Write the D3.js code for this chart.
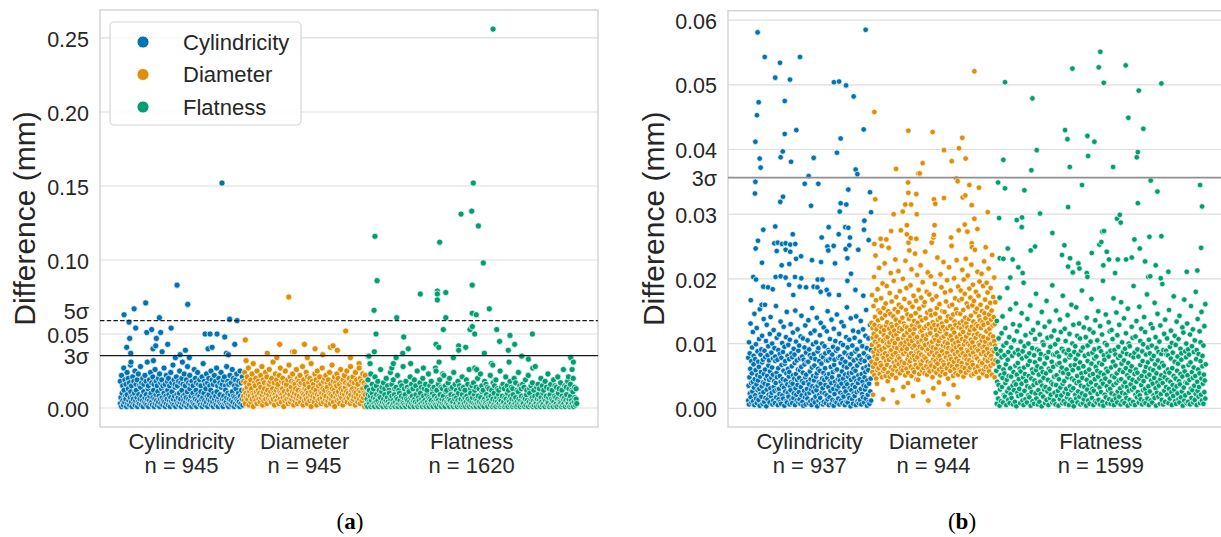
<!DOCTYPE html>
<html><head><meta charset="utf-8">
<script src="https://cdn.jsdelivr.net/npm/d3@7"></script>
<style>body{margin:0;background:#fff}svg{display:block}</style>
</head><body><script>
// ===== DATA (values in µm; axis labels shown in mm) =====
const categories = ["Cylindricity","Diameter","Flatness"];
const countsA = [945,945,1620];
const countsB = [937,944,1599];
const yTicksA = [0,50,100,150,200,250];
const yTicksB = [0,10,20,30,40,50,60];
const sigmaA = [{label:"3σ",v:35.4,labelV:35.4,style:"solid"},{label:"5σ",v:59.0,labelV:65.9,style:"dashed"}];
const sigmaB = [{label:"3σ",v:35.64,labelV:35.64,style:"gray"}];

// ---- panel (a) ----
const cylA_low=[3,7,1,10,5,2,12,4,8,6,1,9,3,13,5,2,7,11,4,1,8,6,3,10,2,5,12,7,1,4,9,3,6,14,2,8,5,1,11,4,7,3,9,2,6,13,1,5,8,3,10,4,2,7,12,1,6,3,9,5,2,11,4,8,1,6,3,13,7,2,5,10,4,1,8,3,6,12,2,9,5,1,7,4,11,3,6,2,8,14,1,5,9,3,7,2,10,4,6,1,12,3,8,5,2,9,4,7,1,11,3,6,2,13,5,8,1,4,10,3,7,2,6,12,1,5,9,3,4,8,2,11,6,1,7,3,10,5,2,13,4,8,1,6,9,3,5,12,2,7,4,1,10,6,3,8,2,11,5,1,7,4,9,3,14,2,6,1,8,5,3,12,4,7,2,10,1,6,3,9,5,2,11,4,8,1,7,3,13,6,2,5,10,4,1,8,3,12,6,2];
const cylA_mid=[18,22,15,27,19,16,24,20,17,29,15,21,18,25,16,19,23,15,28,17,20,16,22,18,31,15,19,24,17,21,16,26,18,15,20,23,17,19,15,27,16,22,18,20,15,24,17,29,19,16,21,15,18,25,17,20,16,23,15,19,28,17,22,16,18,15,26,20,17,24,16,19,15,21,30,18,16,23,17,20,15,25,19,16,22,18,27,15,20,17,24,16,19,21,15,28,18,16,22,17,26,20,15,19,23,16,18,25,17,21];
const cylA_out=[[31,63],[51,41],[69,58],[74,47],[82,37],[84,31],[108,67],[120,54],[197,71],[205,51],[243,53],[253,40],[256,32],[274,42],[279,47],[302,61],[312,51],[323,38],[366,43],[392,54],[425,34],[438,83],[461,36],[479,31],[502,39],[520,70],[532,34],[653,50],[676,40],[691,50],[707,41],[745,50],[783,152],[804,48],[817,37],[832,36],[842,60],[881,43],[899,59]];
const diamA_low=[8,5,12,3,10,7,14,6,9,2,11,8,4,13,6,10,1,9,7,15,5,11,3,8,12,6,10,4,14,7,9,2,11,5,13,8,6,10,3,12,7,9,16,5,11,4,8,13,6,10,2,9,7,12,5,14,8,3,11,6,10,4,9,13,7,1,11,5,8,15,6,10,3,12,7,9,4,14,6,11,8,2,10,5,13,7,9,3,12,6,8,16,4,11,7,10,2,9,5,13,8,6,12,3,10,7,14,5,9,1,11,6,8,13,4,10,7,12,2,9,5,15,8,6,11,3,10,7,13,4,9,12,6,8,2,14,5,11,7,10,3,9,6,13,8,4,12,1,10,7,15,5,9,11,6,3,8,13,7,10,2,12,5,9,14,6,11,4,8,10,7,16,3,9,12,5,13,6,8,11,2,10,7,14,4,9,12,6,3,11,8,5,13,7,10,1,9,15];
const diamA_mid=[18,24,17,21,27,16,19,23,30,17,20,25,18,16,22,28,19,17,24,21,16,26,18,20,31,17,23,19,16,22,27,18,20,17,25,16,19,29,21,18,23,17,16,26,20,18,22,17,28,19,16,24,21,17,20,30,18,16,23,19,25,17,21,16,27,18,20,22,17,19,24,16,29,18,21,17,23,20,16,26,18,19,22,17,25,16,20,28,18,21,17,24,19,16,27,20,18,23,17,22];
const diamA_out=[[17,46],[23,32],[186,37],[259,34],[281,43],[351,75],[381,38],[394,38],[471,43],[494,34],[553,40],[612,36],[671,41],[691,42],[724,39],[788,52],[824,34],[891,30]];
const flatA_low=[2,6,1,9,4,3,8,1,5,10,2,7,3,1,6,4,9,2,5,1,8,3,7,2,11,4,1,6,3,9,2,5,1,7,4,2,10,3,6,1,8,2,5,3,9,1,4,7,2,6,1,3,10,5,2,8,1,4,3,7,2,9,1,6,3,5,2,11,4,1,7,3,8,2,5,1,6,4,9,2,3,1,7,5,2,10,3,6,1,4,8,2,5,3,1,9,4,2,7,1,6,3,5,2,10,1,4,8,3,2,6,1,7,5,3,2,9,4,1,6,3,8,2,5,1,11,4,3,7,2,6,1,5,9,3,2,4,1,8,6,2,3,7,1,5,10,2,4,3,6,1,9,2,5,3,7,1,4,8,2,6,3,1,5,10,2,4,7,1,3,9,2,6,1,5,3,8,2,4,1,7,3,11,2,5,1,6,4,3,9,2,1,7,5,3,2,8,4,1,6,2,10,3,5,1,7,4,2,9,3,6,1,5,2,8,3,4,1,7,2,6,3,10,1,5,4,2,8,3,6,1,9,2,5,3,7,1,4,2,11,6,3,1,5,8,2,4,3,7,1,6,2,9,5,3,1,4,10,2,6,3,7,1,5,2,8,4,3,1,6,9,2,5,3,1,7,4,2,10,3,6,1,5,8,2,4,3,7,1,9,2,6,3,5,1,4,8,2,7,3,1,6,10,2,5,4,3,1,8,2,6,3,7,1,5,9,2,4,3,6,1,8,2,5,3,11,1,4,7,2,6,3];
const flatA_mid=[14,19,12,23,16,13,21,15,18,12,26,14,17,13,20,15,12,24,16,19,13,14,22,12,17,15,28,13,18,14,12,21,16,13,19,15,25,12,17,14,20,13,16,12,23,15,18,13,14,27,12,16,19,14,13,22,15,12,17,20,13,14,24,16,12,18,15,13,21,14,12,19,16,26,13,15,17,12,14,20,13,23,15,12,18,16,14,13,22,12,17,15,19,13,12,25,14,16,13,21,15,12,18,14,13,20,17,12,24,15,13,16,14,19,12,22,13,15,17,12,28,14,16,13,20,15,12,18,14,23,13,16,12,19,15,14,21,13,17,12,26,15,14,18,13,16,12,20,14,13];
const flatA_out=[[15,35],[22,35],[30,30],[61,66],[63,38],[68,116],[76,50],[84,86],[197,27],[209,30],[230,34],[235,61],[281,37],[289,48],[324,40],[342,30],[416,77],[440,27],[537,43],[537,25],[547,79],[547,77],[547,73],[558,41],[560,31],[565,112],[589,23],[593,53],[612,78],[612,61],[670,34],[711,42],[711,39],[729,131],[765,41],[798,53],[811,133],[815,83],[815,64],[816,55],[823,152],[834,50],[834,27],[846,63],[849,26],[862,123],[900,98],[908,37],[946,67],[962,30],[973,29],[975,256],[1003,53],[1025,45],[1092,39],[1098,31],[1105,49],[1141,43],[1195,35],[1246,33],[1277,50],[1280,27],[1472,21],[1554,21],[1571,34],[1582,26],[1592,31]];

// ---- panel (b) ----
const cylB_low=[1.2,3.5,0.6,4.8,2.3,6.1,1.7,3.9,0.9,5.4,2.6,4.1,1.1,6.8,3.2,0.5,4.5,2.0,5.9,1.5,3.7,0.8,5.1,2.8,4.3,1.3,6.4,3.0,0.4,4.9,2.2,5.6,1.8,3.4,7.1,0.7,4.0,2.5,5.3,1.0,3.8,6.0,1.6,4.6,0.3,2.9,5.0,1.4,3.6,6.6,2.1,4.4,0.9,5.7,3.1,1.9,4.7,2.4,6.3,0.6,5.2,1.2,3.3,4.2,2.7,0.8,7.3,3.9,1.7,5.5,4.8,2.9,0.5,6.2,1.4,3.0,2.2,5.0,1.0,4.1,0.7,6.7,3.5,2.0,4.5,1.5,5.8,3.2,0.4,6.9,2.6,4.3,1.1,5.4,0.9,3.7,2.4,6.1,1.8,4.9,5.6,0.6,3.4,2.8,4.0,1.3,6.5,0.8,3.8,5.1,1.6,2.3,4.6,7.0,0.5,3.1,5.3,2.1,1.2,4.4,3.6,6.0,0.9,2.5,4.7,1.4,5.9,0.7,3.3,6.4,2.0,4.2,1.0,5.5,0.4,3.9,2.7,6.8,1.7,4.8,0.6,5.2,2.2,3.0,1.5,4.1,7.2,0.8,3.7,2.4,5.7,1.1,4.5,2.9,0.5,6.3,3.4,1.3,5.0,2.6,4.3,6.6,0.9,3.2,1.8,4.9,2.8,5.4,0.3,3.5,6.1,1.2,4.0,2.1,5.8,1.6,3.8,0.7,6.9,2.5,4.6,3.1,0.6,5.5,1.0,4.4,2.3,6.2,3.6,0.8,5.1,2.0,4.7,1.4,7.4,3.3,0.5,5.3,1.7,4.2,2.7,6.4,3.9,0.7,4.8,1.3,5.6,3.0,0.4,6.7,2.2,4.1,1.1,5.9,3.5,0.9,6.0,2.9,4.5,1.5,3.4,5.0,0.6,4.3,2.4,7.0,1.2,3.8,5.7,0.8,2.1,4.6,1.8,6.5,3.2,0.5,5.2,2.6,4.0,1.0,6.3,3.7,0.9,4.9,2.0,5.4,1.6,3.1,6.8,0.3,4.4,2.8,5.5,1.4,3.6,0.7,6.1,2.3,4.7,1.9,3.3,5.8,0.5,4.2,2.5,6.6,1.1,3.9,5.1,0.8,2.7,4.5,1.3,7.1,3.0,0.6,5.3,2.2,4.1,1.7,6.2,3.5,0.9,4.8,2.9,5.6,1.5,3.4,6.4,0.4,4.3,2.1,5.9,1.0,3.8,0.7,6.7,2.6,4.6,1.2];
const cylB_mid=[7.8,10.2,8.5,13.1,7.3,9.4,11.8,8.1,14.6,7.6,9.9,12.4,8.8,7.2,10.7,15.3,8.3,9.1,11.2,7.5,13.8,8.9,7.9,10.4,12.9,8.2,9.6,7.4,11.5,14.1,8.6,10.0,7.7,12.1,9.3,8.0,15.8,10.9,7.5,9.0,11.4,8.4,13.4,7.8,10.1,8.7,12.6,9.5,7.3,11.0,14.9,8.1,9.8,7.6,10.6,13.0,8.5,7.9,11.7,9.2,8.3,15.1,10.3,7.4,12.2,8.9,9.7,7.7,11.1,14.3,8.0,10.8,7.5,9.4,12.8,8.6,7.2,10.5,13.6,9.1,8.2,11.6,7.8,15.5,9.9,8.4,12.0,7.6,10.2,14.0,8.8,9.3,7.3,11.3,13.2,8.1,10.0,7.9,12.5,9.6,8.5,7.4,11.9,15.0,9.0,8.7,10.7,7.7,13.7,8.3,9.5,12.3,7.5,10.4,8.9,14.5,9.2,7.8,11.5,8.0,10.1,13.3,7.6,9.8,12.7,8.6,7.2,11.0,15.6,9.4,8.2,10.6,7.9,13.9,8.4,9.7,12.0,7.4,10.9,8.8,14.2,9.1,7.7,11.8,8.1,10.3,13.5,7.5,9.6,12.2,8.5,7.3,11.2,15.2,9.3,8.0,10.8,7.8,12.9,9.0];
const cylB_out=[[73,58.1],[894,58.5],[127,54.3],[395,54.3],[243,53.4],[207,51.1],[319,50.8],[653,50.4],[692,50.5],[745,49.9],[803,48.2],[81,47.3],[279,47.5],[68,45.3],[279,42.4],[367,43],[704,41.7],[879,43.1],[56,41.2],[264,39.7],[248,38.8],[676,39.5],[89,38.6],[96,37.2],[327,38.1],[499,38.7],[818,36.9],[831,36.2],[461,35.9],[431,34.7],[534,34.7],[56,35],[53,33.2],[762,33.8],[927,33.4],[266,32.7],[245,31.9],[479,31.3],[704,31.7],[747,31.5],[697,30.4],[935,30.3],[116,27.6],[207,28.1],[613,28],[881,27.6],[884,29],[739,28],[762,27.9],[76,25.9],[58,24.7],[200,25.5],[226,25.6],[258,25.4],[286,25.5],[321,25.3],[359,25.4],[340,26.9],[560,26.4],[689,26.9],[775,26.4],[770,25.2],[917,26],[603,25],[651,25.1],[610,24.4],[218,24.3],[286,24.5],[321,24.2],[403,23.5],[365,23.1],[486,22.9],[555,22.6],[661,22.4],[755,23.2],[742,24.6],[838,24.5],[106,22.5],[256,22.1],[314,22.3],[40,20.3],[61,19.9],[210,20.3],[248,20.4],[286,20.2],[357,20.3],[405,20.1],[530,19.9],[565,19.9],[783,20.8],[755,19.7],[116,18.8],[152,18.7],[188,18.4],[312,19.1],[344,17.5],[393,18.8],[441,18.7],[499,18.8],[527,18.7],[552,18],[598,18.3],[616,17.6],[691,17.5],[816,18.3],[876,17.4],[21,16.7],[104,16],[129,16]];
const diamB_low=[7.2,9.8,5.6,10.9,6.4,8.7,11.5,5.1,8.0,10.3,6.9,9.2,4.6,11.1,7.6,5.9,10.0,8.4,6.2,9.6,8.9,5.3,10.6,7.0,11.8,6.6,9.1,4.8,8.2,10.4,5.8,7.8,11.3,6.1,9.4,8.5,5.0,10.8,7.3,9.9,6.7,11.0,8.1,5.5,9.7,7.5,10.2,4.9,8.8,11.6,6.3,9.0,7.9,5.2,10.5,8.3,6.0,11.2,7.1,9.5,10.1,6.5,8.6,4.7,11.4,7.4,9.3,5.7,10.7,8.0,6.8,11.9,7.7,5.4,9.8,8.9,6.2,10.0,7.2,9.1,5.9,10.9,8.4,6.6,11.3,7.0,9.6,5.1,10.3,8.7,6.1,9.2,11.7,7.6,5.5,10.6,8.2,6.9,9.9,7.3,11.1,6.4,8.5,5.0,10.4,7.8,9.4,6.0,11.5,8.1,5.6,9.7,7.5,10.8,6.7,8.8,4.5,11.0,7.9,9.0,6.3,10.2,8.6,5.3,9.5,7.1,11.8,6.8,8.3,10.5,5.8,9.3,7.4,11.2,6.2,8.0,10.1,5.4,9.8,7.7,10.7,6.5,8.9,5.2,11.4,7.2,9.1,6.1,10.0,8.4,5.7,11.6,7.0,9.6,6.6,8.7,10.3,4.8,9.4,7.6,5.9,11.0,8.2,6.4,10.6,7.3,9.2,5.5,11.3,8.5,6.9,9.9,7.8,10.4,6.0,8.1,11.9,5.1,9.0,7.4,10.9,6.3,8.8,5.6,9.7,7.1,11.1,6.7,8.3,10.2,5.3,9.5,7.9,11.5,6.2,8.6,10.0,4.6,9.3,7.5,6.8,10.8,8.0,5.8,11.2,7.6,9.1,6.5,10.5,8.9,5.0,9.8,7.2,11.7,6.1,8.4,10.1,5.4,9.4,7.7,11.0,6.6,8.7,5.2,10.3,7.3,9.6,6.0,11.4,8.2,5.7,9.2,7.0,10.7,6.4,8.5,11.8,4.9,9.9,7.8,6.2,10.4,8.1,5.5,11.1,7.5,9.0,6.9,10.0,8.8,5.9,11.6,7.4,9.7,6.3,8.3,10.6,5.1,9.3,7.1,10.2,6.7,8.6,5.3,11.3,7.9,9.5,6.1,10.9,8.0,5.6,9.1,7.7,11.5,6.5,8.9,10.1,4.7,9.8,7.2,5.8,11.2,8.4,6.8,10.5,7.0,9.4,5.4,11.0,8.7,6.0,9.6,7.6,10.3,6.4,8.2,11.9,5.0,9.2,7.3,10.8,6.2,8.5,5.7,9.9,7.8,11.4,6.6,8.1,10.0,5.2,9.0,7.5,11.1,6.9,8.8,10.4,4.8,9.7,7.4];
const diamB_mid=[13.2,17.5,12.4,2.1,15.8,20.3,12.9,14.1,23.6,16.7,12.2,3.8,18.4,13.6,15.1,21.7,12.7,14.8,26.2,17.0,12.5,13.9,19.3,1.4,15.5,12.1,22.4,14.4,16.2,12.8,18.9,13.3,4.2,15.0,24.8,12.3,17.8,14.6,20.9,13.0,16.5,12.6,2.8,14.2,19.7,12.0,15.3,23.0,13.7,17.2,12.9,0.9,14.9,21.2,16.0,12.4,18.1,13.4,27.5,15.6,12.2,14.0,20.0,3.3,13.1,16.9,12.7,22.8,15.2,18.6,12.5,14.5,3.9,25.6,13.8,16.3,12.1,19.0,14.3,21.5,12.8,15.7,1.9,17.4,13.5,12.3,23.9,14.7,16.6,12.9,20.6,13.2,4.4,18.3,15.4,12.6,14.1,22.1,17.1,12.0,13.6,19.5,2.5,15.9,12.4,16.4,24.2,13.9,12.7,18.0,14.8,21.0,1.2,13.0,17.6,12.2,15.1,20.4,14.4,12.5,16.8,13.3,3.1,26.8,12.9,19.2,14.6,12.1,17.3,15.5,23.3,13.7,12.8,4.0,16.1,14.0,20.7,12.3,18.7,13.1,15.0,12.6,22.6,2.2,14.9,17.9,12.0,16.5,13.5,19.8,12.4,14.2,0.6,21.8,15.8,12.7,18.2,13.9,25.1,16.0,12.2,14.5,3.6,20.1,13.4,17.0,12.9,15.3,22.9,14.7,1.7,18.8,12.5,16.7,13.2];
const diamB_mid2=[14.6,18.2,12.3,16.9,21.4,13.5,15.2,19.9,12.8,17.7,14.0,23.1,13.1,16.2,12.5,20.5,15.7,13.8,18.5,12.1,17.1,14.3,22.2,12.6,15.9,19.1,13.4,16.6,12.2,24.5,14.9,18.0,13.0,15.4,21.1,12.7,17.4,14.2,19.6,13.6,16.0,12.4,20.8,15.0,13.3,18.9,12.9,22.7,14.7,16.8,13.9,12.0,19.4,15.6,17.9,13.2,21.6,14.5,12.3,16.3,18.6,13.7,15.1,23.7,12.8,17.2,14.1,20.2,13.0,16.4];
const diamB_out=[[23,45.8],[281,42.9],[188,37],[357,36.3],[279,34.9],[30,32.3],[281,33.3],[342,33.1],[258,31.5],[302,31.5],[239,30.4],[345,30],[170,30],[270,28.3],[150,27.4],[270,26.9],[299,26.3],[342,26.2],[23,25.4],[79,25.1],[114,26.1],[289,24.4],[783,52.1],[466,42.7],[691,41.8],[552,39.9],[666,40.2],[611,38.2],[717,38.6],[390,37.9],[368,36.3],[646,35.5],[656,35.1],[745,34.5],[818,34.1],[476,32.3],[486,31.6],[552,32.5],[694,32.6],[714,32.9],[763,31.4],[885,30.3],[481,28.3],[783,29.3],[710,28.4],[664,27.5],[730,27.3],[806,27.7],[606,26.4],[472,26.4],[459,25.6],[763,25.5],[765,24.9],[869,24.9]];
const flatB_low=[2.4,5.8,0.7,4.1,7.2,1.5,3.6,6.4,0.4,2.9,5.1,1.1,7.9,3.3,4.7,0.9,6.0,2.0,5.4,1.8,3.9,6.8,0.5,4.4,2.6,7.5,1.3,5.0,3.1,0.8,6.2,2.2,4.9,1.6,8.1,3.5,0.6,5.6,2.8,4.0,1.0,6.6,3.7,0.3,5.2,2.4,7.0,1.9,4.5,3.0,6.1,0.8,5.7,2.1,3.8,7.7,1.2,4.8,0.5,6.3,2.7,5.3,1.4,4.2,8.0,0.9,3.4,6.7,2.0,5.0,1.7,7.3,3.2,0.4,4.6,2.5,6.0,1.1,5.5,3.6,0.7,4.3,7.1,2.3,5.9,1.5,3.9,6.5,0.6,2.8,5.2,1.0,7.6,4.1,2.2,6.2,0.3,3.5,5.6,1.8,4.7,2.9,6.9,0.8,3.3,5.4,1.3,7.8,2.6,4.4,0.5,6.1,3.0,1.6,5.8,2.1,4.0,7.2,0.9,3.7,6.4,1.2,4.9,2.4,8.3,0.6,3.6,5.1,1.9,6.8,2.7,0.4,4.5,7.0,1.4,3.2,5.7,2.0,6.3,0.8,3.8,5.5,1.1,4.2,2.5,7.4,0.7,3.0,6.0,1.7,4.8,2.2,5.3,0.5,7.9,3.4,1.3,6.6,2.8,4.6,1.0,5.9,3.1,0.3,4.3,6.7,2.1,7.6,1.5,3.9,5.0,0.9,2.6,6.2,4.1,1.8,7.1,0.6,3.5,5.4,2.3,4.7,0.8,6.5,1.4,3.3,8.2,2.0,5.6,0.4,4.4,2.9,7.3,1.2,3.7,6.0,0.7,5.1,2.4,4.0,6.9,1.6,3.0,5.3,0.5,2.7,7.7,4.5,1.1,6.4,3.6,0.9,5.8,2.2,4.9,1.3,7.0,3.2,0.6,5.5,2.5,4.2,6.8,1.0,3.8,0.4,5.2,7.5,2.1,4.6,1.7,6.1,3.4,0.8,5.7,2.8,8.0,1.4,4.1,3.0,0.7,6.3,2.3,5.0,1.2,7.2,3.6,0.5,4.8,2.0,6.6,1.5,3.9,5.4,0.9,2.6,7.8,4.3,1.8,5.9,3.1,0.6,4.5,6.9,2.4,1.1,5.6,3.5,7.4,0.8,4.0,2.2,6.2,1.6,3.3,5.1,0.4,7.0,2.7,4.7,1.3,5.8,3.7,0.7,6.5,2.9,4.4,1.0,7.9,3.2,5.3,0.5,2.1,6.0,4.1,1.7,5.5,2.5,8.1,0.9,4.6,2.0,6.7,1.4,3.6,5.0,0.6,7.3,2.8,4.2,1.1,5.7,3.0,0.8,6.4,2.3,4.9,1.5,7.1,3.4,0.5,5.2,2.6,6.1,1.2,4.3,7.6,0.9,3.8,5.9,2.0,4.7,1.6,6.8,3.1,0.4,5.4,2.4,4.0,7.4,1.8,3.5,6.3,0.7,4.5,2.2,5.1,1.3,7.0,3.9,0.6,6.6,2.7,4.8,1.0,5.6,3.3,8.3,2.1,4.4,6.0,0.8,3.0,5.5,1.5,4.1,7.7,2.5,0.5,6.2,3.6,1.9,5.0,2.9,7.2,1.1,4.6,0.7,3.4,5.8,2.3,6.9,1.4,4.2,0.9,3.7,5.3,1.7,7.5,2.6,4.9,0.4,6.4,3.2,1.2,5.7,2.0,4.0,7.9,0.8,3.9,5.1,1.0,6.7,2.4,4.4,0.6,7.1,3.0,1.6,5.6,2.8,4.7,0.9,6.3,3.5,1.3,5.0,2.2,7.6,0.5,4.1,2.7,6.0,1.8,3.3,5.4,0.8,7.3,2.1,4.6,1.2,6.5,3.8,0.7,5.2,2.5,4.3,1.5,6.8];
const flatB_mid=[9.2,13.5,8.4,10.8,17.1,8.9,11.6,14.2,9.7,8.2,12.4,10.1,18.6,8.7,11.0,15.3,9.4,8.1,13.0,10.5,8.6,16.2,11.9,9.0,8.3,12.8,10.3,14.7,8.8,19.4,9.6,11.3,8.0,13.8,10.0,8.5,15.9,11.7,9.3,12.1,8.2,10.7,17.7,9.1,13.2,8.9,11.4,8.4,14.9,10.2,9.8,12.6,8.1,16.6,10.9,8.7,13.4,9.5,11.1,19.0,8.3,12.0,9.9,15.1,8.6,10.6,8.0,13.7,11.8,9.2,17.4,8.8,12.3,10.4,8.5,14.4,9.0,11.5,8.2,16.0,10.0,12.9,8.7,9.6,15.6,11.2,8.3,13.1,10.8,8.9,18.2,9.4,12.5,8.1,11.0,14.0,9.7,8.4,12.2,10.3,16.9,8.6,11.7,9.1,13.6,8.0,10.5,15.0,9.3,12.7,8.8,11.4,19.7,8.2,10.1,14.5,9.8,8.5,13.3,11.9,8.9,12.1,10.7,17.0,9.0,8.3,14.8,11.3,9.5,12.9,8.1,16.4,10.2,8.7,13.9,9.2,11.6,8.4,15.4,10.0,9.6,8.2,12.6,10.9,18.9,8.6,11.1,13.5,9.1,8.0,15.7,10.4,12.3,8.8,9.9,14.1,11.8,8.3,17.6,9.4,10.6,8.5,13.0,9.7,12.4,8.1,16.3,11.0,9.3,14.6,8.7,10.3,12.8,8.4,19.2,9.0,11.5,13.7,8.9,10.8,8.2,15.2,9.5,12.0,10.1,8.6,17.3,11.2,9.8,13.4,8.0,10.7,14.3,9.2,8.5,12.5,11.7,16.8,8.8,10.0,13.1,9.1,8.3,11.4,15.8,9.6,12.2,8.7,10.5,18.0,9.0,13.8,8.4,11.9,10.2,14.9,8.1,9.7,12.7,16.1];
const flatB_out=[[796,55.1],[584,52.5],[784,52.7],[989,53],[72,50.4],[822,50.3],[1260,50.2],[1088,49.1],[280,47.9],[1009,44.9],[1123,43.2],[528,43],[546,41.6],[698,42.1],[751,41.2],[1081,39.6],[1073,38.8],[313,39.9],[59,38.4],[703,39],[564,37.3],[893,37.3],[272,36.8],[1179,35.2],[19,34.9],[72,34],[219,33.7],[657,34.5],[1230,33.5],[1554,34.5],[1569,31.2],[1081,31.7],[551,31.1],[338,30.1],[27,29.4],[161,29.1],[201,29.5],[199,28],[944,29.9],[923,29.3],[951,28.7],[432,27.1],[812,27.3],[824,27.4],[804,25.7],[789,25.3],[1055,26.1],[1169,26.5],[1260,26.6],[1562,24.8],[93,24.7],[267,24.4],[300,25],[523,25.2],[505,23.7],[731,24],[845,24.2],[1096,24.7],[32,23.2],[59,23.1],[130,23],[173,21.8],[206,20.9],[566,23.2],[551,21.9],[587,21],[629,22.4],[637,21.6],[693,20.9],[698,20.3],[862,23],[819,22.1],[908,20.9],[929,23],[992,23],[1035,23.3],[1136,22.7],[1217,22.1],[1160,20.3],[1175,20.4],[1255,20.1],[1313,21.1],[1453,21.1],[1533,21.3],[112,20.2]];

// ===== LAYOUT =====
const W=1221,H=537;
const palette=["#0173b2","#de8f05","#029e73"];
const FONT='"Liberation Sans", Arial, Helvetica, sans-serif';
const TXT="#262626";
const svg=d3.select("body").append("svg").attr("width",W).attr("height",H);

const panels=[
 {x0:100,x1:598,y0:10,y1:427,xDom:[-154,3671],yDom:[-12.84,268.9],ticks:yTicksA,sigma:sigmaA,counts:countsA,
  data:[[cylA_low,cylA_mid,cylA_out],[diamA_low,diamA_mid,diamA_out],[flatA_low,flatA_mid,flatA_out]],
  r:3.1,titleX:35,tag:"a",tagX:350,legend:true},
 {x0:728,x1:1226,y0:10.7,y1:427,xDom:[-152,3632],yDom:[-2.89,61.45],ticks:yTicksB,sigma:sigmaB,counts:countsB,
  data:[[cylB_low,cylB_mid,cylB_out],[diamB_low,diamB_mid.concat(diamB_mid2),diamB_out],[flatB_low,flatB_mid,flatB_out]],
  r:2.8,titleX:664,tag:"b",tagX:962,legend:false}
];

panels.forEach(p=>{
  const x=d3.scaleLinear().domain(p.xDom).range([p.x0,p.x1]);
  const y=d3.scaleLinear().domain(p.yDom).range([p.y1,p.y0]);
  const g=svg.append("g");
  g.append("g").selectAll("line").data(p.ticks).join("line")
    .attr("x1",p.x0).attr("x2",p.x1).attr("y1",d=>y(d)).attr("y2",d=>y(d))
    .attr("stroke","#dddddd").attr("stroke-width",1.2);
  g.append("rect").attr("x",p.x0).attr("y",p.y0).attr("width",p.x1-p.x0).attr("height",p.y1-p.y0)
    .attr("fill","none").attr("stroke","#d2d2d2").attr("stroke-width",1.4);
  const labels=new Map(p.ticks.map(t=>[t,(t/1000).toFixed(2)]));
  p.sigma.forEach(s=>labels.set(s.labelV,s.label));
  const ax=g.append("g").attr("transform",`translate(${p.x0},0)`)
    .call(d3.axisLeft(y).tickValues(p.ticks.concat(p.sigma.map(s=>s.labelV))).tickFormat(d=>labels.get(d)).tickSize(0).tickPadding(11));
  ax.select(".domain").remove();
  ax.attr("font-family",null).attr("font-size",null);
  ax.selectAll("text").attr("font-family",FONT).attr("font-size",21.5).attr("fill",TXT).attr("dy","0.38em");
  let start=0;
  p.counts.forEach((n,ci)=>{
    const [low,mid,out]=p.data[ci];
    const pts=[];
    low.forEach((v,i)=>pts.push([(i+0.5)*n/low.length,v]));
    mid.forEach((v,i)=>pts.push([(i+0.3)*n/mid.length,v]));
    out.forEach(d=>pts.push(d));
    pts.sort((a,b)=>a[0]-b[0]);
    const s0=start;
    g.append("g").selectAll("circle").data(pts).join("circle")
      .attr("cx",d=>x(s0+d[0])).attr("cy",d=>y(d[1])).attr("r",p.r)
      .attr("fill",palette[ci]).attr("stroke","#fff").attr("stroke-width",0.7);
    const cx=x(s0+n/2);
    const t=g.append("text").attr("text-anchor","middle")
      .attr("font-family",FONT).attr("font-size",22).attr("fill",TXT);
    t.append("tspan").attr("x",cx).attr("y",449).text(categories[ci]);
    t.append("tspan").attr("x",cx).attr("y",472.5).text("n = "+n);
    start+=n;
  });
  p.sigma.forEach(s=>{
    const l=g.append("line").attr("x1",p.x0).attr("x2",p.x1).attr("y1",y(s.v)).attr("y2",y(s.v));
    if(s.style==="dashed") l.attr("stroke","#1a1a1a").attr("stroke-width",1.3).attr("stroke-dasharray","4.5,2.2");
    else if(s.style==="solid") l.attr("stroke","#1a1a1a").attr("stroke-width",1.3);
    else l.attr("stroke","#8f8f8f").attr("stroke-width",1.7);
  });
  g.append("text").attr("transform",`translate(${p.titleX},${(p.y0+p.y1)/2}) rotate(-90)`)
    .attr("text-anchor","middle").attr("font-family",FONT).attr("font-size",30).attr("fill",TXT)
    .text("Difference (mm)");
  const tg=g.append("text").attr("x",p.tagX).attr("y",529).attr("text-anchor","middle")
    .attr("font-family",'"Liberation Serif", "Times New Roman", serif').attr("font-size",23).attr("fill","#000");
  tg.append("tspan").text("(");
  tg.append("tspan").attr("font-weight","bold").text(p.tag);
  tg.append("tspan").text(")");
  if(p.legend){
    const lg=g.append("g");
    lg.append("rect").attr("x",110).attr("y",22).attr("width",191).attr("height",103).attr("rx",4)
      .attr("fill","#fff").attr("fill-opacity",0.8).attr("stroke","#d6d6d6").attr("stroke-width",1.2);
    categories.forEach((c,i)=>{
      const yy=42+i*32.5;
      lg.append("circle").attr("cx",143).attr("cy",yy).attr("r",6).attr("fill",palette[i]).attr("stroke","#fff").attr("stroke-width",0.8);
      lg.append("text").attr("x",183).attr("y",yy+7.8).attr("font-family",FONT).attr("font-size",22).attr("fill",TXT).text(c);
    });
  }
});
</script></body></html>
